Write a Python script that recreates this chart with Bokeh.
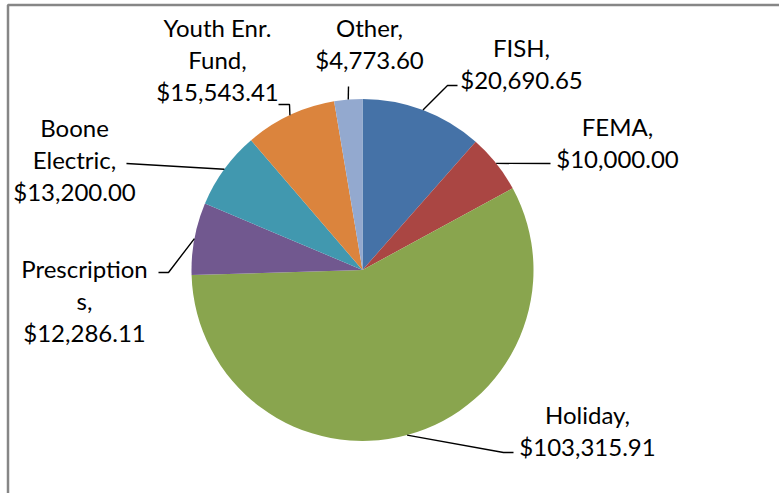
import numpy as np
from bokeh.plotting import figure
from bokeh.models import Range1d
from bokeh.core.properties import value
from bokeh.embed import file_html
from bokeh.resources import INLINE

# ---- data ----
categories = ["FISH", "FEMA", "Holiday", "Prescriptions", "Boone Electric", "Youth Enr. Fund", "Other"]
amounts = [20690.65, 10000.00, 103315.91, 12286.11, 13200.00, 15543.41, 4773.60]
label_lines = [
    ["FISH,"],
    ["FEMA,"],
    ["Holiday,"],
    ["Prescription", "s,"],
    ["Boone", "Electric,"],
    ["Youth Enr.", "Fund,"],
    ["Other,"],
]
colors = ["#4572A7", "#AA4643", "#89A54E", "#71588F", "#4198AF", "#DB843D", "#93A9CF"]

# ---- layout (pixel coords, y down) ----
W, H = 779, 493
CX, CY, R = 362.0, 269.5, 171.0
# first-line centre of each label
label_pos = [(521, 47), (617, 126), (587, 414), (84, 268), (74, 127), (217, 27), (369, 27)]
LINE_PITCH = 32.0
# leader line points after the slice-edge point
leader_tail = [
    [(447, 85), (457, 85)],
    [(550, 163)],
    [(503, 452), (513, 452)],
    [(168, 272), (158, 272)],
    [(126, 163)],
    [(289, 104), (278, 104)],
    [(348, 86)],
]

def yy(py):
    return H - py

p = figure(width=W, height=H, output_backend="svg", toolbar_location=None,
           x_range=Range1d(0, W), y_range=Range1d(0, H), min_border=0)
p.axis.visible = False
p.grid.visible = False
p.outline_line_color = None
p.background_fill_color = "white"
p.border_fill_color = "white"

# frame (clipped on right/bottom as in the reference)
p.line([7.5, 7.5, W + 20], [yy(H + 20), yy(4.5), yy(4.5)], line_color="#868686", line_width=2.5)

vals = np.array(amounts, dtype=float)
frac = vals / vals.sum()
a1 = np.cumsum(frac) * 360.0
a0 = a1 - frac * 360.0
start = np.radians(90.0 - a1)
end = np.radians(90.0 - a0)

p.wedge(x=[CX] * len(vals), y=[yy(CY)] * len(vals), radius=R,
        start_angle=start, end_angle=end, fill_color=colors, line_color=None)

mid = np.radians((a0 + a1) / 2.0)
xs, ys = [], []
for i in range(len(vals)):
    sx = CX + R * np.sin(mid[i])
    sy = CY - R * np.cos(mid[i])
    pts = [(sx, sy)] + leader_tail[i]
    xs.append([pt[0] for pt in pts])
    ys.append([yy(pt[1]) for pt in pts])
p.multi_line(xs, ys, line_color="black", line_width=1.4)

tx, ty, tt = [], [], []
for i in range(len(vals)):
    lines = label_lines[i] + ["${:,.2f}".format(amounts[i])]
    lx, ly = label_pos[i]
    for k, s in enumerate(lines):
        tx.append(lx)
        ty.append(yy(ly + k * LINE_PITCH))
        tt.append(s)
p.text(x=tx, y=ty, text=tt, text_font=value("Lato"), text_font_size="24px",
       text_align="center", text_baseline="middle", text_color="black")

open("out.html", "w").write(file_html(p, INLINE))
